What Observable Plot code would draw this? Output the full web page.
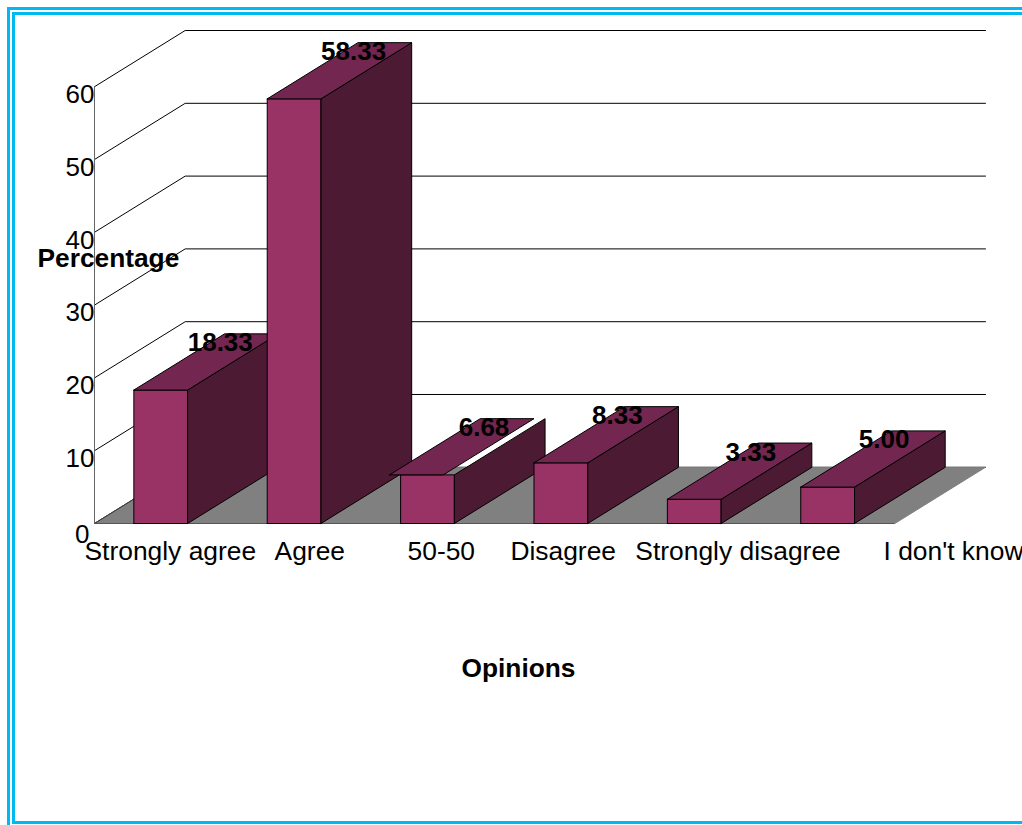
<!DOCTYPE html>
<html>
<head>
<meta charset="utf-8">
<script src="https://cdn.jsdelivr.net/npm/d3@7"></script>
<script src="https://cdn.jsdelivr.net/npm/@observablehq/plot@0.6"></script>
<style>
  html, body { margin: 0; padding: 0; background: #fff; overflow: hidden; }
  #frame { position: relative; width: 1022px; height: 825px; }
  #frame .rule { position: absolute; box-sizing: border-box; }
  #frame svg { position: absolute; left: 0; top: 0; }
</style>
</head>
<body>
<div id="frame">
  <div class="rule" style="left:7px;top:7px;width:1015px;height:818px;border:solid #00b9f2;border-width:3px 0 0 3px"></div>
  <div class="rule" style="left:12px;top:12px;width:1010px;height:812px;border:solid #00b9f2;border-width:3px 0 3px 3px"></div>
</div>
<script>
const opinions = ["Strongly agree", "Agree", "50-50", "Disagree", "Strongly disagree", "I don't know"];
const percentages = [18.33, 58.33, 6.68, 8.33, 3.33, 5.00];
const valueLabels = ["18.33", "58.33", "6.68", "8.33", "3.33", "5.00"];
const yTicks = [0, 10, 20, 30, 40, 50, 60];

// Category labels sit unevenly under the bars, so each has its own offset from the slot start.
const opinionLabelShift = [-0.075, 1.35, 2.347, 3.118, 4.055, 5.915];
// The top of the 50-50 bar is drawn slipped sideways from its body.
const topSlip = [0, 0, -0.083, 0, 0, 0];
// The longer value labels start a touch further right.
const valueLabelNudge = [3, 3, 0, 0, 0, 0];

// Oblique projection: depth moves a point right in slots and up in percentage points.
const depthX = 0.68;
const depthY = 7.72;
const barLeft = 0.295;
const barWidth = 0.403;

const faceColors = { front: "#993366", side: "#4c1a33", top: "#732650" };

const poly = (face, pts) => pts.map(([x, y]) => ({ face, x, y }));

const barFaces = percentages.flatMap((v, i) => {
  const l = i + barLeft, r = l + barWidth, s = topSlip[i];
  return [
    poly(`front-${i}`, [[l, 0], [r, 0], [r, v], [l, v], [l, 0]]).map(d => ({ ...d, kind: "front" })),
    poly(`side-${i}`, [[r, 0], [r + depthX, depthY], [r + depthX, v + depthY], [r, v], [r, 0]]).map(d => ({ ...d, kind: "side" })),
    poly(`top-${i}`, [[l + s, v], [r + s, v], [r + s + depthX, v + depthY], [l + s + depthX, v + depthY], [l + s, v]]).map(d => ({ ...d, kind: "top" }))
  ];
});

const floor = poly("floor", [[0, 0], [6, 0], [6 + depthX, depthY], [depthX, depthY], [0, 0]]);
const wallTicks = yTicks.flatMap(t => poly(`wall-${t}`, [[0, t], [depthX, t + depthY], [6 + depthX, t + depthY]]));

const font = "'Liberation Sans', Arial, sans-serif";

const chart = Plot.plot({
  width: 1022,
  height: 825,
  marginLeft: 94,
  marginRight: 37,
  marginTop: 30,
  marginBottom: 302,
  style: { fontFamily: font, background: "transparent", overflow: "visible" },
  x: { domain: [0, 6 + depthX], axis: null },
  y: { domain: [0, 60 + depthY], axis: null },
  marks: [
    // Back wall rules and the slanted steps on the side wall
    Plot.line(wallTicks, { x: "x", y: "y", z: "face", stroke: "#000", strokeWidth: 1 }),
    // Floor
    Plot.line(floor, { x: "x", y: "y", fill: "#808080", stroke: "#808080", strokeWidth: 1 }),
    Plot.line(floor.slice(0, 1).concat(floor.slice(3, 4)), { x: "x", y: "y", stroke: "#333", strokeWidth: 1 }),
    // Vertical value axis and baseline
    Plot.ruleX([0], { y1: 0, y2: 60, stroke: "#666", strokeWidth: 1 }),
    Plot.ruleY([0], { x1: 0, x2: 6, stroke: "#555", strokeWidth: 1 }),
    // Bars, drawn left to right so later ones overlap earlier ones
    ...barFaces.map(f => Plot.line(f, {
      x: "x", y: "y",
      fill: faceColors[f[0].kind], stroke: "#000", strokeWidth: 1, strokeLinejoin: "miter"
    })),
    // Value axis numbers; the zero hangs a little lower and further left than the rest
    Plot.axisY(yTicks.slice(1), { anchor: "left", tickSize: 0, tickPadding: 0, dy: 8, fontSize: 26, fill: "#000", label: null, tickFormat: d => String(d) }),
    Plot.axisY(yTicks.slice(0, 1), { anchor: "left", tickSize: 0, tickPadding: 0, dx: -5, dy: 11, fontSize: 26, fill: "#000", label: null, tickFormat: d => String(d) }),
    // Opinion labels
    Plot.text(opinions, {
      x: (d, i) => opinionLabelShift[i], y: () => 0,
      text: d => d, textAnchor: "start", dy: 28, fontSize: 26.4, fill: "#000"
    }),
    // Values above the bars
    ...percentages.map((v, i) => Plot.text([v], {
      x: () => i + 0.3 + depthX * 0.62, y: d => d + depthY - 1.2,
      text: () => valueLabels[i], textAnchor: "middle", dx: 26.5 + valueLabelNudge[i], dy: 0.5, fontSize: 26, fontWeight: "bold", fill: "#000"
    })),
    // Axis titles
    Plot.text(["Percentage"], { frameAnchor: "top-left", dx: -57, dy: 228, fontSize: 26.3, fontWeight: "bold", fill: "#000", lineAnchor: "middle" }),
    Plot.text(["Opinions"], { frameAnchor: "bottom-left", dx: 367, dy: 145, fontSize: 26.3, fontWeight: "bold", fill: "#000", lineAnchor: "middle" })
  ]
});
document.getElementById("frame").appendChild(chart);
</script>
</body>
</html>
